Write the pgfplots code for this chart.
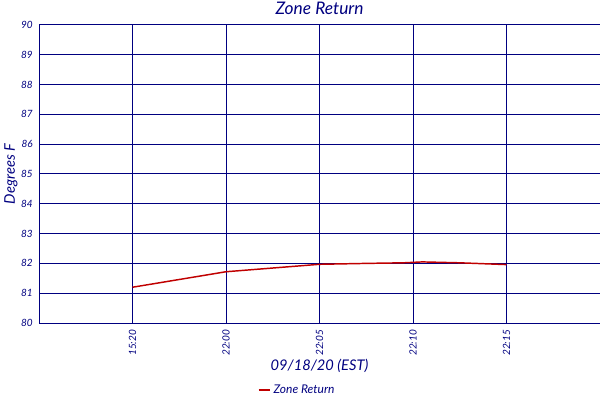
\documentclass[border=0pt]{standalone}
\usepackage{fontspec}
\setmainfont{Lato}
\usepackage{pgfplots}
\pgfplotsset{compat=1.18}
\definecolor{nv}{RGB}{0,0,128}
\definecolor{zr}{RGB}{192,0,0}
\begin{document}
\begin{tikzpicture}
\useasboundingbox (0,0) rectangle (450pt,300pt);
\begin{axis}[
  at={(29.25pt,57.75pt)}, anchor=south west,
  scale only axis, width=420.75pt, height=223.5pt,
  xmin=0, xmax=6, ymin=80, ymax=90,
  xtick={1,2,3,4,5},
  xticklabels={15:20,22:00,22:05,22:10,22:15},
  ytick={80,81,82,83,84,85,86,87,88,89,90},
  yticklabels={80,81,82,83,84,85,86,87,88,89,90},
  grid=major, major tick length=0pt,
  axis line style={nv, line width=0.75pt},
  grid style={nv, line width=0.75pt},
  tick label style={font=\itshape\fontsize{7.5}{9}\selectfont, text=nv},
  xticklabel style={rotate=90, anchor=east, inner sep=0pt, xshift=-5pt},
  yticklabel style={inner sep=0pt, xshift=-4.5pt},
  title={Zone Return},
  title style={at={(axis description cs:0.5,1.03)}, anchor=center, font=\itshape\fontsize{13}{15}\selectfont, text=nv},
  xlabel={09/18/20 (EST)},
  xlabel style={at={(axis description cs:0.5,-0.144)}, anchor=center, font=\itshape\fontsize{11}{13}\selectfont, text=nv},
  ylabel={Degrees F},
  ylabel style={at={(axis description cs:-0.05,0.5)}, anchor=center, font=\itshape\fontsize{11}{13}\selectfont, text=nv},
  legend style={at={(0.389,-0.224)}, anchor=west, draw=none, fill=none, font=\itshape\fontsize{9}{11}\selectfont, text=nv, inner sep=0pt},
  legend image code/.code={\draw[zr, line width=1.5pt] (0cm,0cm) -- (0.3cm,0cm);},
]
\addplot[zr, line width=1.1pt, mark=none] coordinates {
(1,81.2) (2,81.72) (3,81.97) (3.5,82.0) (3.9,82.02) (4.1,82.05) (4.5,82.02) (5,81.96)
};
\addlegendentry{Zone Return}
\end{axis}
\end{tikzpicture}
\end{document}
